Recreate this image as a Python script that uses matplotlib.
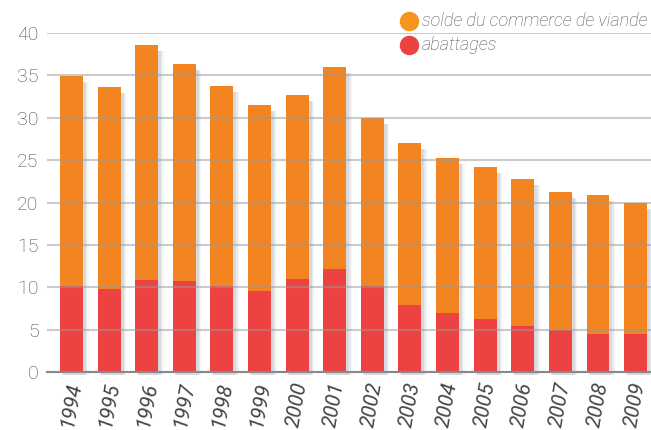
import matplotlib
matplotlib.use("Agg")
import matplotlib.pyplot as plt
from matplotlib.lines import Line2D
import numpy as np

years = ["1994", "1995", "1996", "1997", "1998", "1999", "2000", "2001",
         "2002", "2003", "2004", "2005", "2006", "2007", "2008", "2009"]
# abattages (bas de barre)
abattages = [10.15, 9.8, 10.85, 10.7, 10.2, 9.6, 11.0, 12.15,
             10.1, 7.9, 7.0, 6.25, 5.4, 5.0, 4.5, 4.5]
# hauteur totale
totals = [34.9, 33.6, 38.6, 36.3, 33.7, 31.5, 32.7, 36.0,
          30.0, 27.0, 25.3, 24.2, 22.8, 21.2, 20.9, 19.9]
solde = [t - a for t, a in zip(totals, abattages)]

legend_labels = ["solde du commerce de viande", "abattages"]
yticks = [0, 5, 10, 15, 20, 25, 30, 35, 40]

orange = "#F28522"
red = "#EE4242"
grey_txt = "#555555"

plt.rcParams['font.family'] = ['Roboto', 'DejaVu Sans']

fig = plt.figure(figsize=(6.51, 4.30), dpi=100)
ax = fig.add_axes([47 / 651, 58 / 430, 604 / 651, 339 / 430])

x = np.arange(len(years))
w = 0.61

# ombre douce derriere les barres
for dx, wd, a in [(0.10, w + 0.10, 0.05), (0.09, w + 0.05, 0.07), (0.08, w, 0.11)]:
    ax.bar(x + dx, [t - 0.3 for t in totals], bottom=-0.4, width=wd, color="#555566",
           alpha=a, zorder=1, linewidth=0, clip_on=False)

ax.bar(x, abattages, width=w, color=red, zorder=2)
ax.bar(x, solde, bottom=abattages, width=w, color=orange, zorder=2)

ax.set_xlim(-0.65, len(years) - 1 + 0.41)
ax.set_ylim(0, 40)
ax.set_yticks(yticks)
ax.set_yticklabels([str(v) for v in yticks], fontsize=14, color="#4a4a4a", fontweight="light")
ax.set_xticks(x)
ax.set_xticklabels(years, rotation=80, fontsize=15, color="#444444", style="italic",
                   va="top", ha="center")
ax.tick_params(axis="both", length=0, pad=6)
ax.tick_params(axis="x", pad=6)

ax.grid(axis="y", color="#999999", alpha=0.5, linewidth=1.5, zorder=3)
ax.set_axisbelow(False)
for s in ["top", "right", "left"]:
    ax.spines[s].set_visible(False)
ax.spines["bottom"].set_color("#888888")
ax.spines["bottom"].set_linewidth(1.5)
ax.spines["bottom"].set_zorder(4)

# légende
leg_colors = ["#F7941D", red]
leg_y = [21, 45]
for lab, c, yy in zip(legend_labels, leg_colors, leg_y):
    fig.add_artist(Line2D([409 / 651], [1 - yy / 430], marker="o", markersize=13,
                          color=c, transform=fig.transFigure))
    fig.text(422 / 651, 1 - yy / 430, lab, fontsize=13, style="italic", color=grey_txt,
             fontweight="light", va="center", ha="left")

fig.savefig("out.png", dpi=100)
